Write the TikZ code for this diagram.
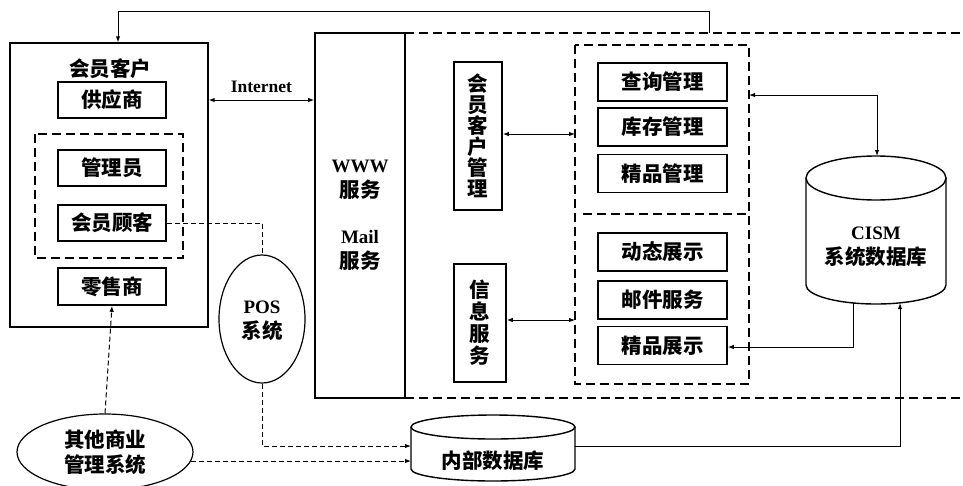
\documentclass[tikz,border=0pt]{standalone}
\usepackage{fontspec}
\setmainfont{Liberation Serif}
\newfontfamily\cjk{Noto Sans CJK SC}
\newcommand\ltfont{\bfseries\fontsize{19}{21}\selectfont}
\newcommand\cnfont{\cjk\bfseries\fontsize{20.5}{21}\selectfont}
\usetikzlibrary{shapes.geometric,arrows.meta}
\begin{document}
\begin{tikzpicture}[x=1pt,y=-1pt,
  cn/.style={font=\cnfont},
  lt/.style={font=\ltfont},
  box/.style={draw,line width=1.6pt,inner sep=0pt,cn},
  hbox/.style={box,minimum width=108pt,minimum height=36pt},
  rbox/.style={box,minimum width=129pt,minimum height=38pt},
  grp/.style={draw,line width=1.8pt,dash pattern=on 9pt off 5pt},
  conn/.style={line width=1pt,-{Latex[length=6pt,width=4.5pt]}},
  bconn/.style={line width=1pt,{Latex[length=6pt,width=4.5pt]}-{Latex[length=6pt,width=4.5pt]}},
  dconn/.style={line width=1pt,dash pattern=on 5pt off 3pt},
  oval/.style={draw,ellipse,line width=1.2pt,inner sep=0pt,align=center}
]
\useasboundingbox (0,0) rectangle (963,485);
\fill[white] (0,0) rectangle (963,485);

% left member box
\node[draw,line width=1.4pt,minimum width=198pt,minimum height=284pt,inner sep=0pt] (member) at (109,185) {};
\node[cn] (mtitle) at (110,69) {会员客户};
\node[hbox] (supp) at (112,100) {供应商};
\draw[grp] (35,134) rectangle (183,258);
\node[hbox] (admin) at (112,168) {管理员};
\node[hbox] (cust) at (112,223) {会员顾客};
\node[hbox,minimum height=37pt] (retail) at (112,286.5) {零售商};

% WWW box
\node[draw,line width=1.6pt,minimum width=90pt,minimum height=365pt,inner sep=0pt] (www) at (360,215.5) {};
\node[lt] (wwwt) at (360,166) {WWW};
\node[cn] (wwws) at (360,190) {服务};
\node[lt] (mailt) at (360,237) {Mail};
\node[cn] (mails) at (360,261) {服务};

% big dashed region
\coordinate (bigtop) at (709,33);
\draw[grp] (405,33) -- (963,33);
\draw[grp] (405,398) -- (963,398);

% vertical boxes
\node[box,minimum width=48pt,minimum height=148pt,align=center,font=\cjk\bfseries\fontsize{20.5}{21}\selectfont] (mgmt) at (478,136) {会\\员\\客\\户\\管\\理};
\node[box,minimum width=52pt,minimum height=118pt,align=center,font=\cjk\bfseries\fontsize{20.5}{22}\selectfont] (info) at (480,323) {信\\息\\服\\务};

% inner dashed group
\draw[grp] (575,45) rectangle (749,384);
\draw[grp] (583,214) -- (749,214);
\coordinate (grpA) at (575,134);
\coordinate (grpB) at (575,320);
\coordinate (grpC) at (749,95);

\node[rbox] (query) at (662.5,82) {查询管理};
\node[rbox] (stock) at (662.5,127) {库存管理};
\node[rbox] (fine) at (662.5,173.5) {精品管理};
\node[rbox] (dyn) at (662.5,252) {动态展示};
\node[rbox] (mail) at (662.5,300) {邮件服务};
\node[rbox] (show) at (662.5,345.5) {精品展示};

% CISM cylinder
\draw[line width=1.4pt,fill=white] (806,178) -- (806,285) arc[start angle=180,end angle=360,x radius=70,y radius=-19] -- (946,178);
\draw[line width=1.4pt] (876,178) ellipse[x radius=70,y radius=22];
\node[lt] (cismt) at (876,233) {CISM};
\node[cn] (cisms) at (876,257) {系统数据库};
\coordinate (cismtop) at (877,156);
\coordinate (cismbotA) at (853,303);
\coordinate (cismbotB) at (900,303);

% internal database cylinder
\draw[line width=1.4pt] (411,427) -- (411,469) arc[start angle=180,end angle=360,x radius=82,y radius=-12] -- (575,427);
\draw[line width=1.4pt] (493,427) ellipse[x radius=82,y radius=12];
\node[cn] (idb) at (493,461) {内部数据库};
\coordinate (idbE) at (575,446);
\coordinate (idbW1) at (411,446);
\coordinate (idbW2) at (411,461);

% ellipses
\node[oval,minimum width=86pt,minimum height=128pt] (pos) at (262,319) {};
\node[lt] (post) at (262,307) {POS};
\node[cn] (poss) at (262,331) {系统};
\node[oval,minimum width=176pt,minimum height=76pt,font=\cjk\bfseries\fontsize{20.5}{25}\selectfont] (other) at (105,452) {其他商业\\管理系统};
\coordinate (otherE) at (190.5,461);

% connectors
\draw[conn] (bigtop) -- (709,11) -| (member.north -| 118,0);
\draw[bconn] (member.east |- supp) -- node[above=3pt,font=\bfseries\fontsize{17.5}{18}\selectfont] (inet) {Internet} (www.west |- supp);
\draw[bconn] (mgmt.east |- grpA) -- (grpA);
\draw[bconn] (info.east |- grpB) -- (grpB);
\draw[bconn] (grpC) -- (877,95) -- (cismtop);
\draw[conn] (cismbotA) -- (853,347) -- (show.east |- 0,347);
\draw[conn] (idbE) -- (900,446) -- (cismbotB);
\draw[dconn] (cust.east) -- (262,223) -- (pos.north);
\draw[dconn,-{Latex[length=6pt,width=4.5pt]}] (pos.south) -- (262,446) -- (idbW1);
\draw[dconn,-{Latex[length=6pt,width=4.5pt]}] (other.north) -- (retail.south);
\draw[dconn,-{Latex[length=6pt,width=4.5pt]}] (otherE) -- (idbW2);
\end{tikzpicture}
\end{document}
